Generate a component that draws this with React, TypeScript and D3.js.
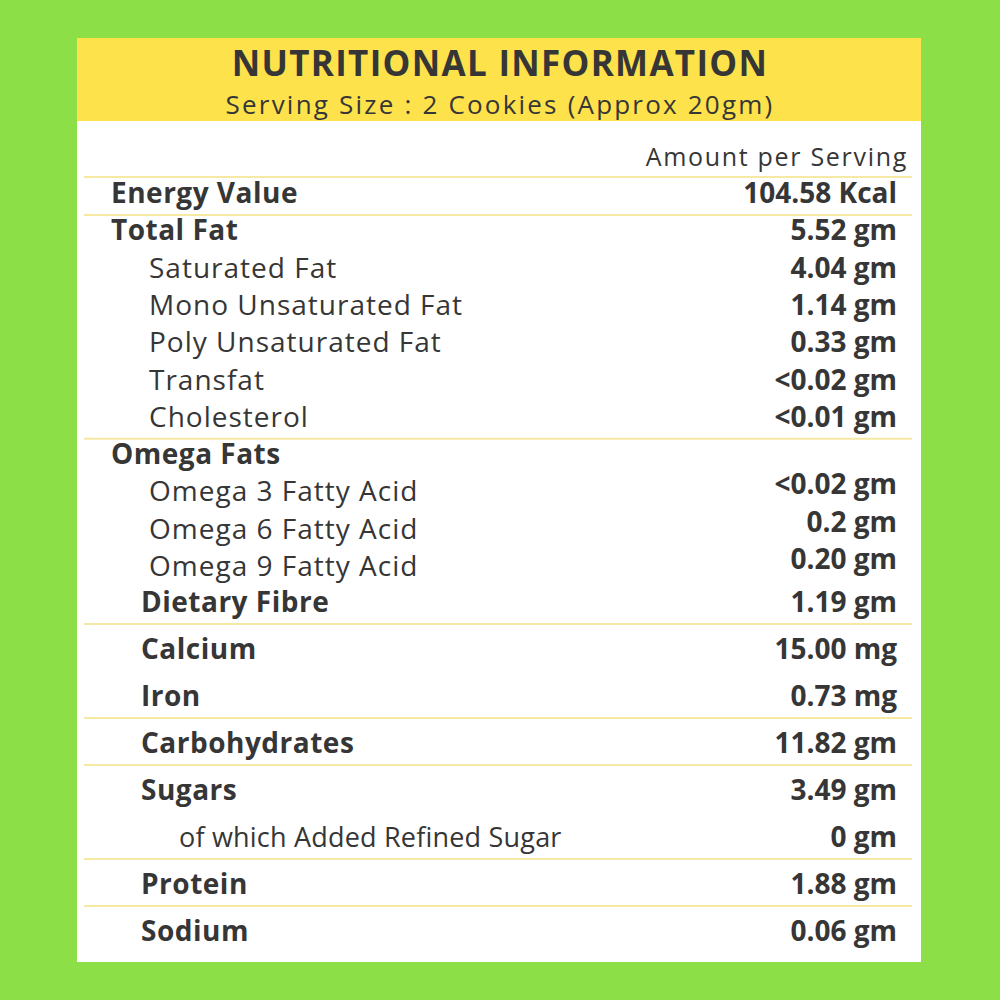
import React from 'react';
import * as d3 from 'd3';

// label data
const title = 'NUTRITIONAL INFORMATION';
const subtitle = 'Serving Size : 2 Cookies (Approx 20gm)';
const columnHeader = 'Amount per Serving';

const labels = [
    'Energy Value', 'Total Fat', 'Saturated Fat', 'Mono Unsaturated Fat', 'Poly Unsaturated Fat',
    'Transfat', 'Cholesterol', 'Omega Fats', 'Omega 3 Fatty Acid', 'Omega 6 Fatty Acid',
    'Omega 9 Fatty Acid', 'Dietary Fibre', 'Calcium', 'Iron', 'Carbohydrates', 'Sugars',
    'of which Added Refined Sugar', 'Protein', 'Sodium',
];
const amounts = [
    '104.58 Kcal', '5.52 gm', '4.04 gm', '1.14 gm', '0.33 gm',
    '<0.02 gm', '<0.01 gm', '', '<0.02 gm', '0.2 gm',
    '0.20 gm', '1.19 gm', '15.00 mg', '0.73 mg', '11.82 gm', '3.49 gm',
    '0 gm', '1.88 gm', '0.06 gm',
];
// kind of row: head = top level, sub = part of a head, item = nutrient, note = part of an item
const kinds = [
    'head', 'head', 'sub', 'sub', 'sub',
    'sub', 'sub', 'head', 'sub', 'sub',
    'sub', 'item', 'item', 'item', 'item', 'item',
    'note', 'item', 'item',
];
// rows that close a group
const groupEnds = [0, 6, 11, 13, 14, 16, 17];

export default function App() {
    const W = 1000, H = 1000;
    const panel = {x0: 77, x1: 921, y0: 38, y1: 962};

    // fat block is packed tighter than the rest
    const yUpper = d3.scaleLinear().domain([0, 10]).range([203, 576]);
    const yLower = d3.scaleLinear().domain([11, 18]).range([612, 941]);
    const y = (i: number) => (i <= 10 ? yUpper(i) : yLower(i));

    const indent: Record<string, number> = {head: 111, sub: 149, item: 141, note: 179};
    const ink = '#363636';
    const rule = '#F6E9A3';
    const font = '"Open Sans", sans-serif';

    // the original face is wider than Open Sans, so stretch it a bit
    const labelStyle = (k: string) => {
        if (k === 'head' || k === 'item') return {size: 28, weight: 700, ls: 0.5};
        if (k === 'note') return {size: 27, weight: 400, ls: 0.2};
        return {size: 28, weight: 400, ls: 1};
    };

    return (
        <svg width={W} height={H} style={{position: 'absolute', left: 0, top: 0}}>
            <rect width={W} height={H} fill="#8DDF47" />
            <rect x={panel.x0} y={panel.y0} width={panel.x1 - panel.x0} height={panel.y1 - panel.y0} fill="#fff" />
            <rect x={panel.x0} y={panel.y0} width={panel.x1 - panel.x0} height={83} fill="#FDE24C" />

            <text x={500} y={76} textAnchor="middle" fontFamily={font} fontWeight={700} fontSize={35}
                  letterSpacing={1.3} fill={ink}>
                {title}
            </text>
            <text x={500} y={114} textAnchor="middle" fontFamily={font} fontSize={26} letterSpacing={2.2} fill={ink}>
                {subtitle}
            </text>
            <text x={908} y={166} textAnchor="end" fontFamily={font} fontSize={25} letterSpacing={1.7} fill={ink}>
                {columnHeader}
            </text>
            <line x1={84} x2={912} y1={177} y2={177} stroke={rule} strokeWidth={2} />

            {labels.map((d, i) => {
                const st = labelStyle(kinds[i]);
                // omega values sit a little higher than their labels in the original
                const vy = i >= 8 && i <= 10 ? y(i) - 7 : y(i);
                return (
                    <g key={d}>
                        <text x={indent[kinds[i]]} y={y(i)} fontFamily={font} fontWeight={st.weight}
                              fontSize={st.size} letterSpacing={st.ls} fill={ink}>
                            {d}
                        </text>
                        {amounts[i] && (
                            <text x={897} y={vy} textAnchor="end" fontFamily={font} fontWeight={700}
                                  fontSize={28} fill={ink}>
                                {amounts[i]}
                            </text>
                        )}
                    </g>
                );
            })}

            {groupEnds.map(i => (
                <line key={i} x1={84} x2={912} y1={y(i) + 12} y2={y(i) + 12} stroke={rule} strokeWidth={2} />
            ))}
        </svg>
    );
}
